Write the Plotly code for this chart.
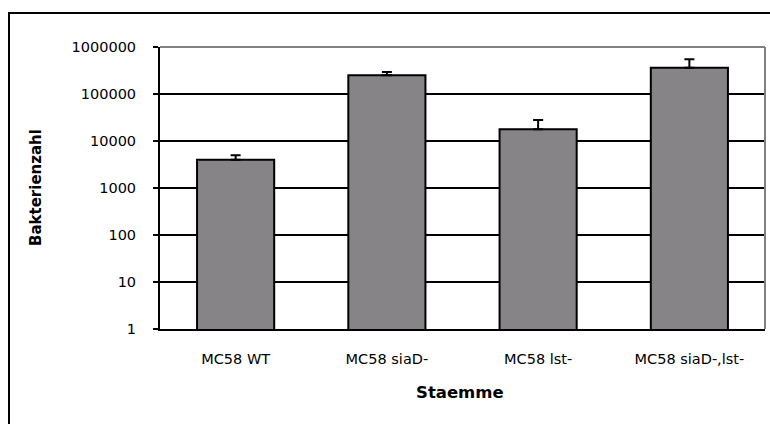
import plotly.graph_objects as go

# Bacterial counts per strain (log scale) with upper error
strains = ["MC58 WT", "MC58 siaD-", "MC58 lst-", "MC58 siaD-,lst-"]
counts = [4000, 250000, 17800, 363000]
err_upper = [1000, 43000, 10200, 187000]
tick_vals = [1, 10, 100, 1000, 10000, 100000, 1000000]
tick_text = ["1", "10", "100", "1000", "10000", "100000", "1000000"]

W, H = 770, 424
L, R, T, B = 160, 5, 47, 95

fig = go.Figure()
fig.add_trace(go.Bar(
    x=strains,
    y=counts,
    marker=dict(color="#868487", line=dict(color="black", width=2)),
    error_y=dict(type="data", symmetric=False, array=err_upper,
                 arrayminus=[0] * len(counts),
                 color="black", thickness=2, width=5),
    showlegend=False,
))

font_family = "DejaVu Sans, Verdana, sans-serif"

fig.update_layout(
    width=W, height=H,
    margin=dict(l=L, r=R, t=T, b=B, pad=0),
    paper_bgcolor="white",
    plot_bgcolor="white",
    bargap=0.49,
    font=dict(family=font_family, size=14, color="black"),
    xaxis=dict(
        showline=True, linecolor="black", linewidth=2,
        ticks="", showgrid=False,
        tickfont=dict(size=14.5),
        ticklabelstandoff=16,
    ),
    yaxis=dict(
        type="log", range=[0, 6],
        tickvals=tick_vals, ticktext=tick_text,
        showline=True, linecolor="black", linewidth=2,
        ticks="outside", ticklen=5, tickwidth=2, tickcolor="black",
        showgrid=True, gridcolor="black", gridwidth=2,
        zeroline=False,
        tickfont=dict(size=14.5),
        ticklabelstandoff=14,
    ),
)

ph = H - T - B
pw = W - L - R

# Axis titles
fig.add_annotation(
    text="<b>Staemme</b>", xref="paper", yref="paper",
    x=(460 - L) / pw, y=-(392 - (H - B)) / ph, showarrow=False,
    font=dict(size=16.5, family=font_family),
    xanchor="center", yanchor="middle",
)
fig.add_annotation(
    text="<b>Bakterienzahl</b>", xref="paper", yref="paper",
    x=(36 - L) / pw, y=((H - B) - 188) / ph, showarrow=False,
    textangle=-90, font=dict(size=15, family=font_family),
    xanchor="center", yanchor="middle",
)

# Grey plot-area border on top and right
fig.add_shape(type="line", xref="paper", yref="paper", x0=0, x1=1, y0=1, y1=1,
              line=dict(color="#808080", width=2), layer="above")
fig.add_shape(type="line", xref="paper", yref="paper", x0=1, x1=1, y0=0, y1=1,
              line=dict(color="#808080", width=2), layer="above")

# Black chart frame
fig.add_shape(type="rect", xref="paper", yref="paper",
              x0=(9 - L) / pw, x1=1 + 30 / pw,
              y0=-(460 - (H - B)) / ph, y1=1 + (T - 13) / ph,
              line=dict(color="black", width=2), layer="above")

fig.write_html("out.html")
